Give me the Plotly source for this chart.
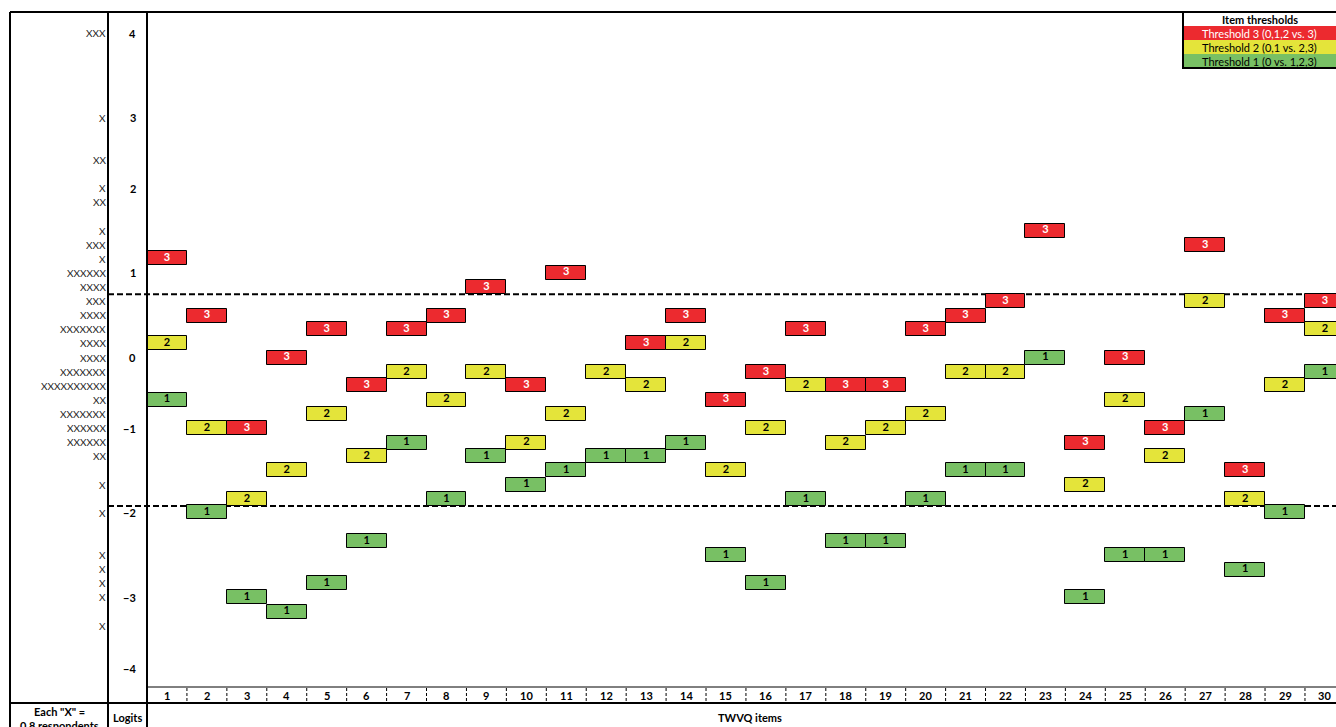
import plotly.graph_objects as go

# ---------------------------------------------------------------- data
ITEMS = list(range(1, 31))

# Rasch-Andrich threshold locations (logits) for each TWVQ item
THRESHOLD_3 = [1.16, 0.44, -0.98, -0.09, 0.27, -0.44, 0.27, 0.44, 0.80, -0.44,
               0.98, None, 0.09, 0.44, -0.62, -0.27, 0.27, -0.44, -0.44, 0.27,
               0.44, 0.62, 1.51, -1.16, -0.09, -0.98, 1.33, -1.51, 0.44, 0.62]
THRESHOLD_2 = [0.09, -0.98, -1.87, -1.51, -0.80, -1.33, -0.27, -0.62, -0.27, -1.16,
               -0.80, -0.27, -0.44, 0.09, -1.51, -0.98, -0.44, -1.16, -0.98, -0.80,
               -0.27, -0.27, None, -1.69, -0.62, -1.33, 0.62, -1.87, -0.44, 0.27]
THRESHOLD_1 = [-0.62, -2.04, -3.11, -3.29, -2.93, -2.40, -1.16, -1.87, -1.33, -1.69,
               -1.51, -1.33, -1.33, -1.16, -2.58, -2.93, -1.87, -2.40, -2.40, -1.87,
               -1.51, -1.51, -0.09, -3.11, -2.58, -2.58, -0.80, -2.76, -2.04, -0.27]

# number of "X" marks in each row of the map, from the top row (logit 4) down
PERSON_X_PER_ROW = [3, 0, 0, 0, 0, 0, 1, 0, 0, 2, 0, 1, 2, 0, 1, 3, 1, 6, 4, 3,
                    4, 7, 4, 4, 7, 10, 2, 7, 6, 6, 2, 0, 1, 0, 1, 0, 0, 1, 1, 1,
                    1, 0, 1, 0, 0, 0]

# logit scale labels and the map row each one sits on
LOGIT_TICK_TEXT = ["4", "3", "2", "1", "0", "\u22121", "\u22122", "\u22123", "\u22124"]
LOGIT_TICK_ROWS = [0, 6, 11, 17, 23, 28, 34, 40, 45]

# reference cut-offs drawn as dashed lines (logits)
CUT_LINES = [0.71, -1.96]

ROW_TOP = 4.0          # logit of the first map row
ROW_STEP = 8 / 45      # logits per map row

# ---------------------------------------------------------------- geometry
W, H = 1336, 727
FONT = "Lato"
COL_LEFT, COL_W = 147, 39.93       # px: left edge of item 1, item column width
ROW0_PX, ROW_PX = 33, 635 / 45     # px: centre of first row, row pitch

RED, YELLOW, GREEN = "#EC2A2F", "#E4E43A", "#78C064"


def px(x):
    return x / W


def py(y):
    return 1 - y / H


def row_logit(r):
    return ROW_TOP - r * ROW_STEP


x_lo = 0.5 - COL_LEFT / COL_W
x_hi = 0.5 + (W - COL_LEFT) / COL_W
y_hi = ROW_TOP + ROW0_PX / ROW_PX * ROW_STEP
y_lo = ROW_TOP - (H - ROW0_PX) / ROW_PX * ROW_STEP

fig = go.Figure()


def add_threshold(values, label, fill, text_color):
    xs = [i for i, v in zip(ITEMS, values) if v is not None]
    ys = [v for v in values if v is not None]
    fig.add_trace(go.Bar(
        x=xs, y=[ROW_STEP] * len(ys), base=[v - ROW_STEP / 2 for v in ys],
        width=1, marker=dict(color=fill, line=dict(color="black", width=1)),
        showlegend=False, hoverinfo="skip"))
    fig.add_trace(go.Scatter(
        x=xs, y=ys, mode="text", text=[label] * len(ys),
        textposition="middle center",
        textfont=dict(family=FONT, size=11, color=text_color, weight="bold"),
        showlegend=False, hoverinfo="skip"))


add_threshold(THRESHOLD_3, "3", RED, "white")
add_threshold(THRESHOLD_2, "2", YELLOW, "black")
add_threshold(THRESHOLD_1, "1", GREEN, "black")

shapes = []
annotations = []


def label(txt, x, y, xref="paper", yref="paper", xanchor="center",
          size=11, color="black", bold=True):
    annotations.append(dict(x=x, y=y, xref=xref, yref=yref, text=txt,
                            xanchor=xanchor, yanchor="middle", showarrow=False,
                            borderpad=0,
                            font=dict(family=FONT, size=size, color=color,
                                      weight="bold" if bold else "normal")))


# dashed cut-off lines, underneath the threshold boxes
for c in CUT_LINES:
    shapes.append(dict(type="line", xref="paper", yref="y", x0=px(108), x1=1,
                       y0=c, y1=c, layer="below",
                       line=dict(color="black", width=2, dash="6px,3px")))

# frame of the map
frame = [
    (10, 12, W, 12, 2), (10, 12, 10, H, 2), (108, 12, 108, H, 2),
    (147, 12, 147, H, 2), (10, 703, W, 703, 2), (147, 687, W, 687, 1),
]
for x0, y0, x1, y1, w in frame:
    shapes.append(dict(type="line", xref="paper", yref="paper",
                       x0=px(x0), y0=py(y0), x1=px(x1), y1=py(y1),
                       line=dict(color="black", width=w)))

# item number row
for i in ITEMS:
    label(str(i), i, py(695.5), xref="x")
    if i < ITEMS[-1]:
        shapes.append(dict(type="line", xref="x", yref="paper", x0=i + 0.5, x1=i + 0.5,
                           y0=py(688), y1=py(702),
                           line=dict(color="black", width=1, dash="3px,2px")))

# person distribution column
for r, n in enumerate(PERSON_X_PER_ROW):
    if n:
        label("X" * n, px(107), row_logit(r), yref="y", xanchor="right",
              size=10, color="#222222", bold=False)

# logit scale column
for t, r in zip(LOGIT_TICK_TEXT, LOGIT_TICK_ROWS):
    label(t, px(137), row_logit(r), yref="y", xanchor="right")

# bottom captions
label("Each \"X\" =", px(59), py(711))
label("0.8 respondents", px(59), py(725))
label("Logits", px(127.5), py(717))
label("TWVQ items", px(750), py(717))

# legend box
legend_rows = [("Item thresholds", "white", "black", True),
               ("Threshold 3 (0,1,2 vs. 3)", RED, "white", False),
               ("Threshold 2 (0,1 vs. 2,3)", YELLOW, "black", False),
               ("Threshold 1 (0 vs. 1,2,3)", GREEN, "black", False)]
LX0, LX1, LY0, LH = 1183, 1340, 12, 14
for k, (txt, fill, col, bold) in enumerate(legend_rows):
    y0 = LY0 + k * LH
    shapes.append(dict(type="rect", xref="paper", yref="paper",
                       x0=px(LX0), x1=px(LX1), y0=py(y0), y1=py(y0 + LH),
                       fillcolor=fill, line=dict(width=0)))
    label(txt, px((LX0 + 1336) / 2), py(y0 + LH / 2 + 0.5), color=col, bold=bold)
shapes.append(dict(type="rect", xref="paper", yref="paper",
                   x0=px(LX0), x1=px(LX1), y0=py(LY0), y1=py(LY0 + 4 * LH),
                   line=dict(color="black", width=2)))

fig.update_layout(
    width=W, height=H, margin=dict(l=0, r=0, t=0, b=0, pad=0),
    paper_bgcolor="white", plot_bgcolor="white",
    barmode="overlay", bargap=0,
    xaxis=dict(range=[x_lo, x_hi], visible=False, fixedrange=True),
    yaxis=dict(range=[y_lo, y_hi], visible=False, fixedrange=True),
    shapes=shapes, annotations=annotations, showlegend=False,
)

fig.write_html("out.html")
